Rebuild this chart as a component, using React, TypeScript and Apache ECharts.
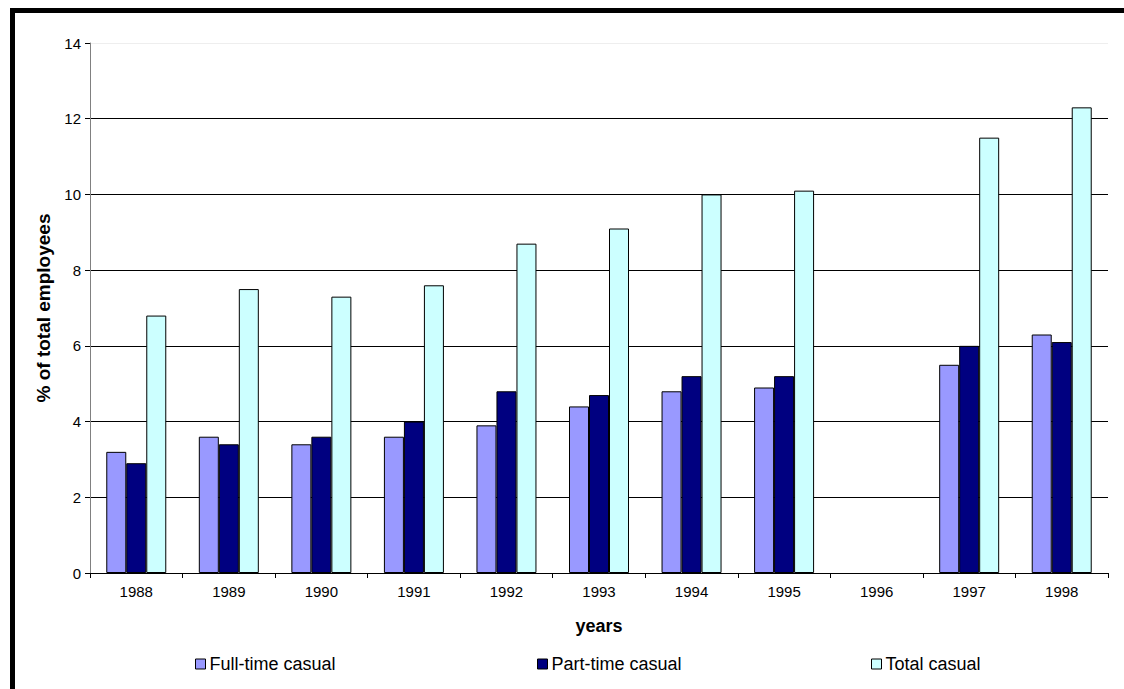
import React, { useEffect, useRef } from "react";
import * as echarts from "echarts";

const years = ["1988", "1989", "1990", "1991", "1992", "1993", "1994", "1995", "1996", "1997", "1998"];
const fullTime = [3.2, 3.6, 3.4, 3.6, 3.9, 4.4, 4.8, 4.9, null, 5.5, 6.3];
const partTime = [2.9, 3.4, 3.6, 4.0, 4.8, 4.7, 5.2, 5.2, null, 6.0, 6.1];
const totalCasual = [6.8, 7.5, 7.3, 7.6, 8.7, 9.1, 10.0, 10.1, null, 11.5, 12.3];
const seriesNames = ["Full-time casual", "Part-time casual", "Total casual"];
const seriesColors = ["#9999FF", "#000080", "#CCFFFF"];

const FONT = "Arial, 'Liberation Sans', sans-serif";

export default function App() {
  const ref = useRef<HTMLDivElement>(null);
  useEffect(() => {
    if (!ref.current) return;
    const chart = echarts.init(ref.current, null, { renderer: "svg" });
    const dataSets = [fullTime, partTime, totalCasual];
    const legendLefts = [190, 532, 866];
    chart.setOption({
      animation: false,
      backgroundColor: "#fff",
      textStyle: { fontFamily: FONT },
      grid: { left: 90, right: 16, top: 43, bottom: 116 },
      legend: seriesNames.map((n, i) => ({
        data: [n],
        left: legendLefts[i],
        top: 650,
        icon: "rect",
        itemWidth: 10,
        itemHeight: 10,
        itemGap: 5,
        selectedMode: false,
        itemStyle: { borderColor: "#000", borderWidth: 1 },
        textStyle: { fontFamily: FONT, fontSize: 18, color: "#000", padding: [0, 0, 0, -1] },
      })),
      xAxis: {
        type: "category",
        data: years,
        name: "years",
        nameLocation: "middle",
        nameGap: 44,
        nameTextStyle: { fontFamily: FONT, fontSize: 18, fontWeight: "bold", color: "#000" },
        axisLine: { lineStyle: { color: "#000", width: 1 } },
        axisTick: { show: true, length: 5, lineStyle: { color: "#000" } },
        axisLabel: { fontFamily: FONT, fontSize: 15, color: "#000", margin: 11 },
        splitLine: { show: false },
      },
      yAxis: {
        type: "value",
        min: 0,
        max: 14,
        interval: 2,
        name: "% of total employees",
        nameLocation: "middle",
        nameGap: 36,
        nameTextStyle: { fontFamily: FONT, fontSize: 19, fontWeight: "bold", color: "#000" },
        axisLine: { show: true, lineStyle: { color: "#808080", width: 1 } },
        axisTick: { show: true, length: 5, lineStyle: { color: "#000" } },
        axisLabel: { fontFamily: FONT, fontSize: 15, color: "#000", margin: 9 },
        splitLine: {
          show: true,
          lineStyle: { color: ["#000", "#000", "#000", "#000", "#000", "#000", "#000", "#eeeeee"], width: 1 },
        },
      },
      series: seriesNames.map((n, i) => ({
        name: n,
        type: "bar",
        data: dataSets[i],
        barWidth: 20,
        barGap: "0%",
        itemStyle: { color: seriesColors[i], borderColor: "#000", borderWidth: 1 },
      })),
      graphic: [
        { type: "rect", shape: { x: 10, y: 8, width: 1114, height: 5 }, style: { fill: "#000" }, silent: true },
        { type: "rect", shape: { x: 10, y: 8, width: 5, height: 681 }, style: { fill: "#000" }, silent: true },
      ],
    });
    return () => chart.dispose();
  }, []);
  return (
    <div
      ref={ref}
      style={{ position: "fixed", left: 0, top: 0, width: 1124, height: 689, background: "#fff" }}
    />
  );
}
